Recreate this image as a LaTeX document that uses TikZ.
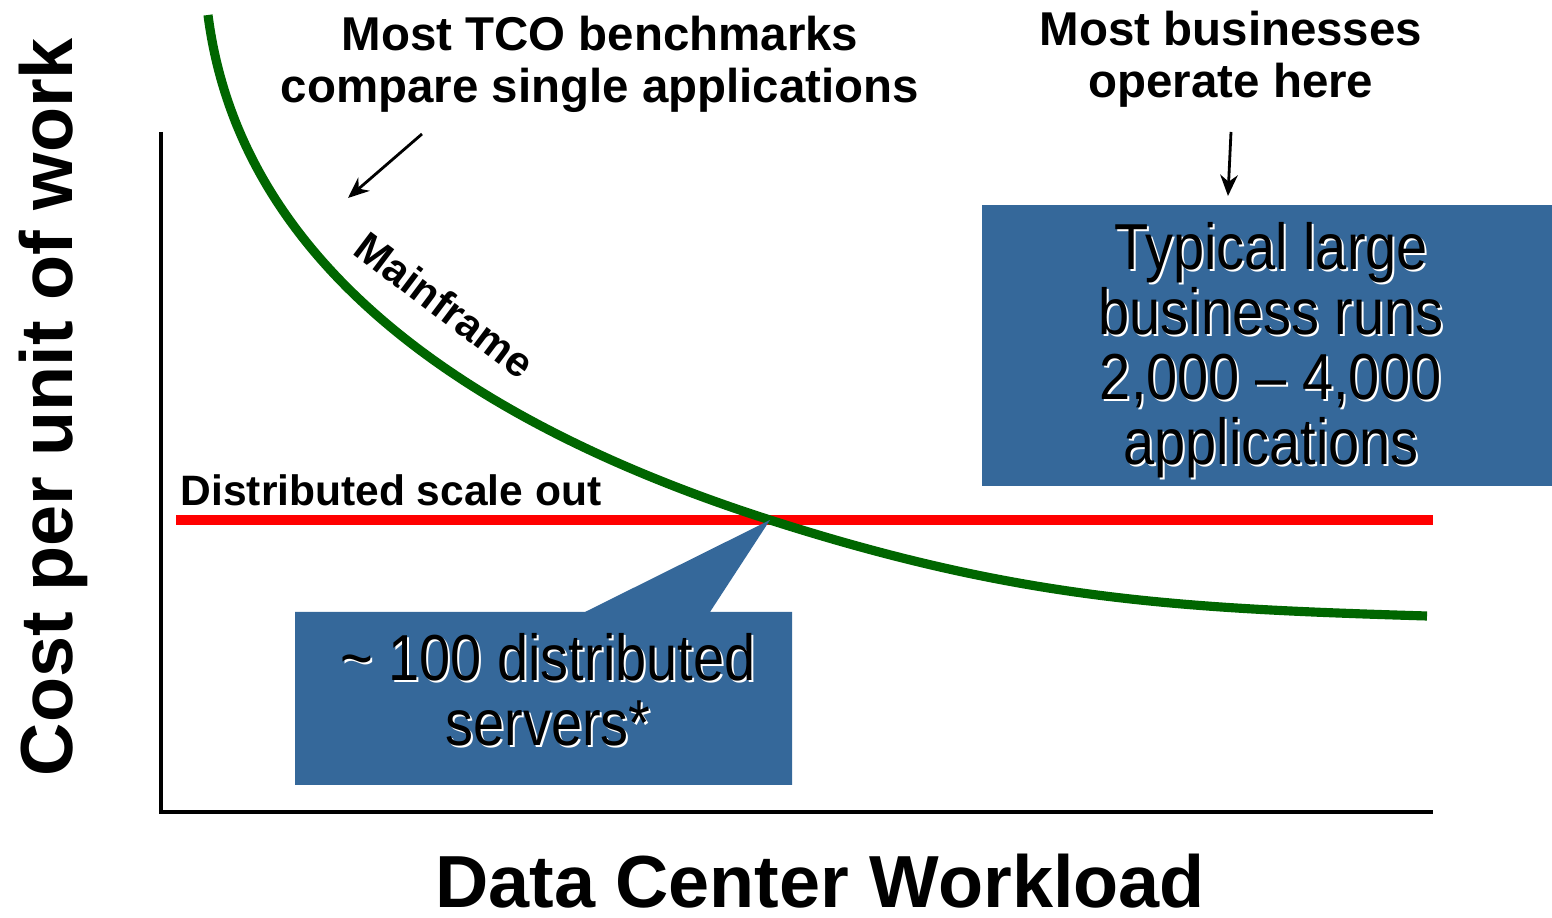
\documentclass[tikz,border=0pt]{standalone}
\usepackage{fontspec}
\setmainfont{Liberation Sans}
\newfontfamily\narrowfont[FakeStretch=0.86,Ligatures=TeX]{Liberation Sans}
\usetikzlibrary{arrows.meta}
\definecolor{mfgreen}{RGB}{0,102,0}
\definecolor{boxblue}{RGB}{53,104,154}

\begin{document}
\begin{tikzpicture}
  [axis/.style={line width=0.9pt},
   note/.style={font=\bfseries\fontsize{13.5}{14.8}\selectfont,align=center,inner sep=0pt},
   title/.style={font=\bfseries\fontsize{21}{24}\selectfont,inner sep=0pt,anchor=base},
   boxtext/.style={font=\narrowfont\fontsize{18.5}{18.5}\selectfont,align=center,inner sep=0pt,anchor=north},
   pointer/.style={line width=0.8pt,-{Stealth[length=6pt,width=5pt]}}]
  \useasboundingbox (0,0) rectangle (15.52,9.18);

  % axes
  \draw[axis] (1.61,7.86) -- (1.61,1.06) -- (14.33,1.06);
  \node[title] (ylab) at (0.72,5.11) [rotate=90] {Cost per unit of work};
  \node[title] (xlab) at (8.20,0.10) {Data Center Workload};

  % distributed line and mainframe curve
  \coordinate (cross) at (7.70,3.98);
  \draw[red,line width=2.8pt] (1.76,3.98) -- (14.33,3.98);
  \node[font=\bfseries\fontsize{12.1}{14}\selectfont,inner sep=0pt,anchor=base west] (dist) at (1.80,4.12) {Distributed scale out};
  \draw[mfgreen,line width=2.6pt] (2.08,9.03) .. controls (2.40,6.53) and (4.70,4.94) .. (cross)
    .. controls (10.20,3.18) and (11.77,3.095) .. (14.27,3.02);
  \node[font=\bfseries\fontsize{12}{14}\selectfont,inner sep=0pt,rotate=-37] (mf) at (4.45,6.13) {Mainframe};

  % notes on top
  \node[note,anchor=north] (tco) at (6.00,9.03) {Most TCO benchmarks\\compare single applications};
  \node[note,anchor=north] (biz) at (12.31,9.08) {Most businesses\\operate here};
  \coordinate (tco-from) at (4.22,7.84);
  \coordinate (tco-to) at (3.48,7.20);
  \coordinate (biz-from) at (12.31,7.86);
  \coordinate (biz-to) at (12.28,7.22);
  \draw[pointer] (tco-from) -- (tco-to);
  \draw[pointer] (biz-from) -- (biz-to);

  % blue boxes
  \fill[boxblue] (9.82,7.13) rectangle (15.52,4.32);
  \node[boxtext,text=white] (apps-sh) at (12.73,6.94) {Typical large\\business runs\\2,000 \textendash{} 4,000\\applications};
  \node[boxtext] (apps) at (12.71,6.96) {Typical large\\business runs\\2,000 \textendash{} 4,000\\applications};

  \fill[boxblue] (2.95,3.06) -- (5.85,3.06) -- (cross) -- (7.10,3.06) -- (7.92,3.06)
    -- (7.92,1.33) -- (2.95,1.33) -- cycle;
  \node[boxtext,text=white] (servers-sh) at (5.50,2.83) {\textasciitilde{} 100 distributed\\servers*};
  \node[boxtext] (servers) at (5.48,2.85) {\textasciitilde{} 100 distributed\\servers*};

\end{tikzpicture}
\end{document}
